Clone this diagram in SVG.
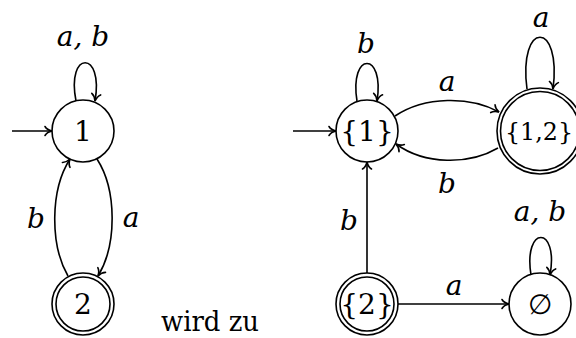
<svg xmlns="http://www.w3.org/2000/svg" width="576" height="338" viewBox="0 0 576 338">
<style>
  .st { fill: none; stroke: #000; stroke-width: 1.6; }
  .edge { fill: none; stroke: #000; stroke-width: 1.6; marker-end: url(#arr); }
  text { font-family: "DejaVu Serif", "Liberation Serif", "Times New Roman", Times, serif; font-size: 28px; text-anchor: middle; fill: #000; }
  .lb { font-style: italic; }
</style>
<defs>
  <marker id="arr" markerUnits="userSpaceOnUse" markerWidth="20" markerHeight="20" viewBox="-10 -10 20 20" refX="0" refY="0" orient="auto" overflow="visible">
    <path d="M -7 -4.5 C -5.5 -2 -2.5 -0.6 0 0 C -2.5 0.6 -5.5 2 -7 4.5" fill="none" stroke="#000" stroke-width="1.6" stroke-linecap="round"/>
  </marker>
</defs>
<rect width="576" height="338" fill="#fff"/>

<g id="L1">
  <circle class="st" cx="83" cy="131" r="31"/>
  <text x="83" y="141">1</text>
</g>
<g id="L2">
  <circle class="st" cx="83" cy="304" r="31"/>
  <circle class="st" cx="83" cy="304" r="27"/>
  <text x="83" y="314">2</text>
</g>
<g id="R1">
  <circle class="st" cx="367" cy="131" r="31"/>
  <text x="367" y="141">{1}</text>
</g>
<g id="R12">
  <circle class="st" cx="540" cy="131" r="43"/>
  <circle class="st" cx="540" cy="131" r="39.5"/>
  <text x="539" y="140" style="font-size:25px" textLength="68" lengthAdjust="spacingAndGlyphs">{1,2}</text>
</g>
<g id="R2">
  <circle class="st" cx="367" cy="304" r="31"/>
  <circle class="st" cx="367" cy="304" r="27"/>
  <text x="367" y="314">{2}</text>
</g>
<g id="REmpty">
  <circle class="st" cx="540" cy="304" r="31"/>
  <text x="540" y="314">∅</text>
</g>

<g id="edges">
  <path class="edge" d="M 12 131 L 52 131"/>
  <path class="edge" d="M 76 101 C 66 50 104 50 95 101"/>
  <path class="edge" d="M 97 159 C 117 190 117 245 98 276"/>
  <path class="edge" d="M 68 276 C 50 245 50 190 70 159"/>

  <path class="edge" d="M 293 131 L 336 131"/>
  <path class="edge" d="M 357 101 C 349 51 385 51 377 101"/>
  <path class="edge" d="M 527 89 C 518 20 562 20 553 89"/>
  <path class="edge" d="M 395 116 C 425 96 470 96 499 112"/>
  <path class="edge" d="M 498 148 C 469 165 425 165 396 144"/>
  <path class="edge" d="M 367 273 L 367 162"/>
  <path class="edge" d="M 398 304 L 509 304"/>
  <path class="edge" d="M 531 275 C 523 225 559 225 550 275"/>
</g>

<g id="labels">
  <text class="lb" x="83" y="46">a, b</text>
  <text class="lb" x="36" y="228">b</text>
  <text class="lb" x="131" y="227">a</text>
  <text class="lb" x="366" y="53">b</text>
  <text class="lb" x="541" y="27">a</text>
  <text class="lb" x="447" y="91">a</text>
  <text class="lb" x="447" y="193">b</text>
  <text class="lb" x="349" y="230">b</text>
  <text class="lb" x="454" y="295">a</text>
  <text class="lb" x="540" y="221">a, b</text>
</g>
<text x="210" y="331" textLength="98" lengthAdjust="spacingAndGlyphs">wird zu</text>
</svg>
